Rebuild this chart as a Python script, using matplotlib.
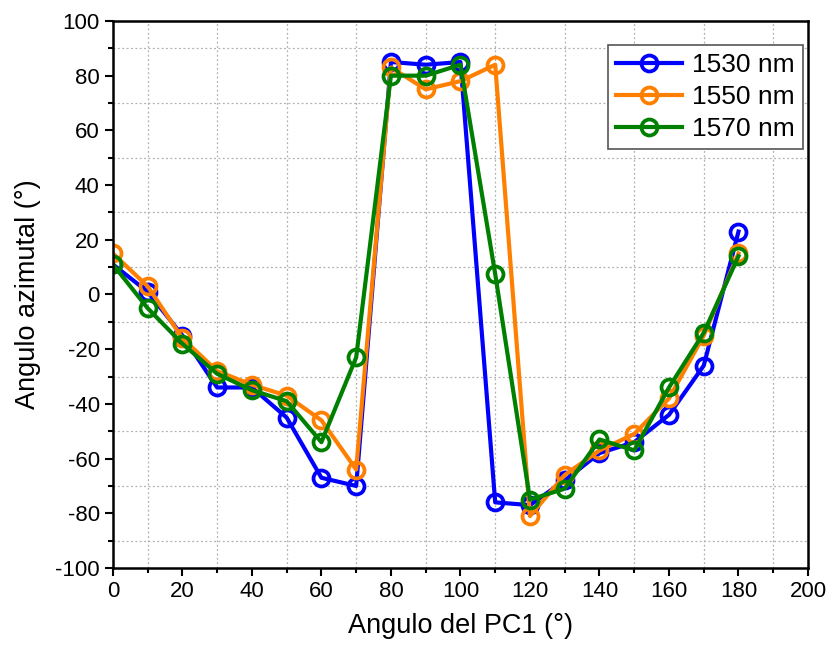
import matplotlib
matplotlib.use("Agg")
import matplotlib.pyplot as plt
from matplotlib.ticker import MultipleLocator

plt.rcParams['font.family'] = ['Liberation Sans', 'DejaVu Sans']
plt.rcParams['axes.unicode_minus'] = False

angles = [0, 10, 20, 30, 40, 50, 60, 70, 80, 90, 100, 110, 120, 130, 140, 150, 160, 170, 180]
az_1530 = [11, 1, -15, -34, -34, -45, -67, -70, 85, 84, 85, -76, -77, -68, -58, -54, -44, -26, 23]
az_1550 = [15, 3, -16, -28, -33, -37, -46, -64, 83, 75, 78, 84, -81, -66, -57, -51, -38, -15, 15]
az_1570 = [11, -5, -18, -29, -35, -39, -54, -23, 80, 80, 84, 7.5, -75, -71, -53, -57, -34, -14, 14]
labels = ['1530 nm', '1550 nm', '1570 nm']
colors = ['#0000ff', '#ff8000', '#008000']

fig = plt.figure(figsize=(8.3, 6.55), dpi=100)
ax = fig.add_axes([0.136, 0.1328, 0.8375, 0.8352])

for ys, lab, c in zip([az_1530, az_1550, az_1570], labels, colors):
    ax.plot(angles, ys, color=c, lw=3, marker='o', ms=11.5, mfc='none',
            mec=c, mew=2.7, label=lab)

ax.set_xlim(0, 200)
ax.set_ylim(-100, 100)
ax.xaxis.set_major_locator(MultipleLocator(20))
ax.xaxis.set_minor_locator(MultipleLocator(10))
ax.yaxis.set_major_locator(MultipleLocator(20))
ax.yaxis.set_minor_locator(MultipleLocator(10))
ax.grid(False)
for v in range(10, 200, 20):
    ax.axvline(v, color='#b0b0b0', lw=0.9, ls=(0, (1.5, 2)), zorder=0)
for v in range(-90, 100, 20):
    ax.axhline(v, color='#b0b0b0', lw=0.9, ls=(0, (1.5, 2)), zorder=0)

ax.tick_params(which='major', direction='out', length=6, width=1.5, labelsize=16,
               top=False, right=False)
ax.tick_params(which='minor', direction='out', length=3.5, width=1.5,
               top=False, right=False)
for s in ax.spines.values():
    s.set_linewidth(1.8)

ax.set_xlabel('Angulo del PC1 (°)', fontsize=19.5, labelpad=8)
ax.set_ylabel('Angulo azimutal (°)', fontsize=19.5, labelpad=10)

leg = ax.legend(loc='upper right', bbox_to_anchor=(0.9928, 0.956), fontsize=19,
                fancybox=False, edgecolor='#555555', framealpha=1,
                handlelength=2.5, borderpad=0.3, labelspacing=0.3, handletextpad=0.4,
                borderaxespad=0)
leg.get_frame().set_linewidth(1.2)

fig.savefig('out.png', dpi=100)
